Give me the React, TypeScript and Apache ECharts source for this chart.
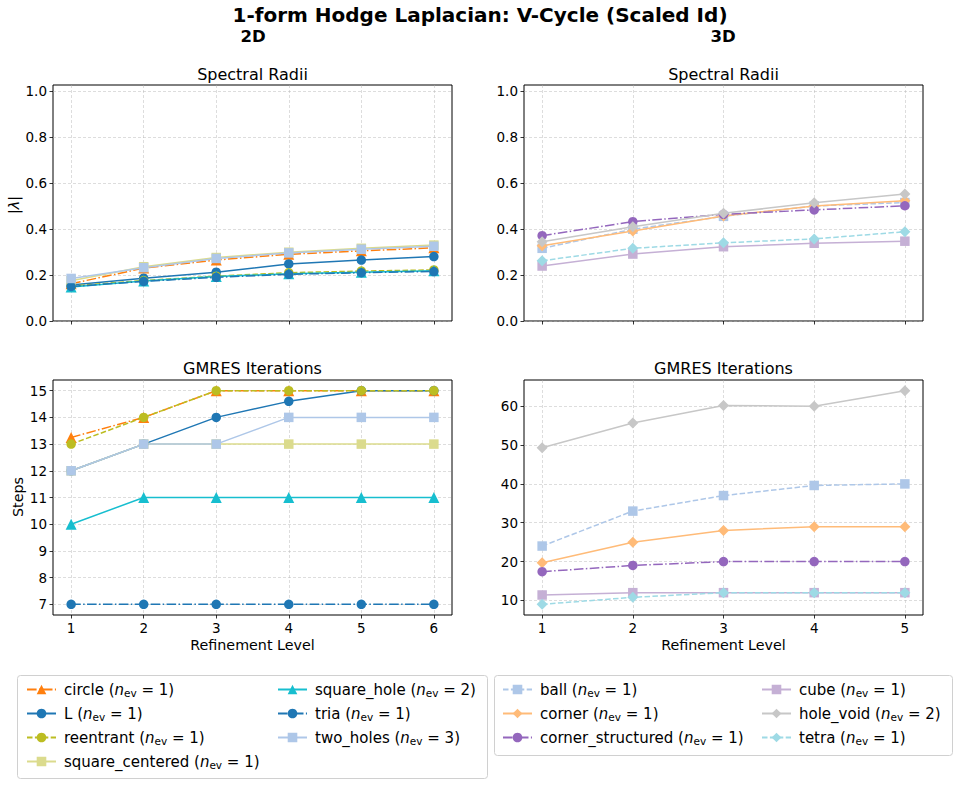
import React, { useEffect, useRef } from "react";
import * as echarts from "echarts";

const FONT = '"DejaVu Sans", "Liberation Sans", sans-serif';

// ---------- data ----------
const levels2D = [1, 2, 3, 4, 5, 6];
const levels3D = [1, 2, 3, 4, 5];

// 2D spectral radii
const rho2D_circle = [0.162, 0.23, 0.265, 0.29, 0.305, 0.318];
const rho2D_L = [0.157, 0.186, 0.212, 0.248, 0.265, 0.28];
const rho2D_reentrant = [0.152, 0.176, 0.195, 0.21, 0.217, 0.222];
const rho2D_square_centered = [0.175, 0.236, 0.276, 0.299, 0.316, 0.33];
const rho2D_square_hole = [0.148, 0.174, 0.193, 0.205, 0.212, 0.218];
const rho2D_tria = [0.15, 0.172, 0.19, 0.203, 0.21, 0.215];
const rho2D_two_holes = [0.185, 0.232, 0.272, 0.296, 0.312, 0.325];

// 2D GMRES steps
const steps2D_circle = [13.25, 14, 15, 15, 15, 15];
const steps2D_L = [12, 13, 14, 14.6, 15, 15];
const steps2D_reentrant = [13, 14, 15, 15, 15, 15];
const steps2D_square_centered = [12, 13, 13, 13, 13, 13];
const steps2D_square_hole = [10, 11, 11, 11, 11, 11];
const steps2D_tria = [7, 7, 7, 7, 7, 7];
const steps2D_two_holes = [12, 13, 13, 14, 14, 14];

// 3D spectral radii
const rho3D_ball = [0.316, 0.399, 0.455, 0.5, 0.515];
const rho3D_corner = [0.327, 0.391, 0.456, 0.5, 0.523];
const rho3D_corner_structured = [0.371, 0.432, 0.464, 0.483, 0.501];
const rho3D_cube = [0.239, 0.291, 0.323, 0.338, 0.347];
const rho3D_hole_void = [0.345, 0.41, 0.468, 0.514, 0.552];
const rho3D_tetra = [0.262, 0.316, 0.34, 0.357, 0.388];

// 3D GMRES steps
const steps3D_ball = [24, 33, 37, 39.6, 40];
const steps3D_corner = [19.7, 25, 28, 29, 29];
const steps3D_corner_structured = [17.4, 19, 20, 20, 20];
const steps3D_cube = [11.4, 12, 12, 12, 12];
const steps3D_hole_void = [49.3, 55.7, 60.2, 60, 64];
const steps3D_tetra = [9, 10.8, 12, 12, 12];

const names2D = ["circle", "L", "reentrant", "square_centered", "square_hole", "tria", "two_holes"];
const nev2D = [1, 1, 1, 1, 2, 1, 3];
const names3D = ["ball", "corner", "corner_structured", "cube", "hole_void", "tetra"];
const nev3D = [1, 1, 1, 1, 2, 1];

const rhoTicks = [0, 0.2, 0.4, 0.6, 0.8, 1.0];
const steps2DTicks = [7, 8, 9, 10, 11, 12, 13, 14, 15];
const steps3DTicks = [10, 20, 30, 40, 50, 60];

// ---------- styles ----------
const DASHED = [5.5, 2.4];
const DASHDOT = [9.6, 2.4, 1.5, 2.4];
const TICK_FS = 13.5;

const style2D: Record<string, any> = {
  circle: { color: "#ff7f0e", symbol: "triangle", dash: DASHDOT },
  L: { color: "#1f77b4", symbol: "circle", dash: "solid" },
  reentrant: { color: "#bcbd22", symbol: "circle", dash: DASHED },
  square_centered: { color: "#dbdb8d", symbol: "rect", dash: "solid" },
  square_hole: { color: "#17becf", symbol: "triangle", dash: "solid" },
  tria: { color: "#1f77b4", symbol: "circle", dash: DASHDOT },
  two_holes: { color: "#aec7e8", symbol: "rect", dash: "solid" },
};
const style3D: Record<string, any> = {
  ball: { color: "#aec7e8", symbol: "rect", dash: DASHED },
  corner: { color: "#ffbb78", symbol: "diamond", dash: "solid" },
  corner_structured: { color: "#9467bd", symbol: "circle", dash: DASHDOT },
  cube: { color: "#c5b0d5", symbol: "rect", dash: "solid" },
  hole_void: { color: "#c7c7c7", symbol: "diamond", dash: "solid" },
  tetra: { color: "#9edae5", symbol: "diamond", dash: DASHED },
};

const symSize: Record<string, number> = { circle: 9.5, triangle: 11, rect: 9.5, diamond: 11 };

function mkSeries(name: string, st: any, idx: number, levels: number[], values: number[]) {
  return {
    type: "line",
    name,
    xAxisIndex: idx,
    yAxisIndex: idx,
    data: levels.map((l, i) => [l, values[i]]),
    symbol: st.symbol,
    symbolSize: symSize[st.symbol],
    showSymbol: true,
    lineStyle: { color: st.color, width: 1.5, type: st.dash },
    itemStyle: { color: st.color, borderWidth: 0 },
    emphasis: { disabled: true },
  };
}

const gridLine = { show: true, lineStyle: { color: "rgba(176,176,176,0.55)", width: 0.8, type: [3, 2] } };

function xAxis(gi: number, min: number, max: number, ticks: number[], showLabels: boolean) {
  return {
    type: "value",
    gridIndex: gi,
    min,
    max,
    axisLine: { show: false },
    axisTick: { show: true, length: 3.5, inside: false, lineStyle: { color: "#000", width: 0.8 }, customValues: ticks },
    axisLabel: {
      show: showLabels,
      customValues: ticks,
      color: "#000",
      fontSize: TICK_FS,
      fontFamily: FONT,
      margin: 6,
    },
    splitLine: { ...gridLine, customValues: ticks },
  };
}
function yAxis(gi: number, min: number, max: number, ticks: number[], fmt: (v: number) => string) {
  return {
    type: "value",
    gridIndex: gi,
    min,
    max,
    axisLine: { show: false },
    axisTick: { show: true, length: 3.5, inside: false, lineStyle: { color: "#000", width: 0.8 }, customValues: ticks },
    axisLabel: {
      customValues: ticks,
      color: "#000",
      fontSize: TICK_FS,
      fontFamily: FONT,
      margin: 6,
      formatter: (v: number) => fmt(v),
    },
    splitLine: { ...gridLine, customValues: ticks },
  };
}

const LEG_FS = 15;
const richLegend = {
  t: { fontSize: LEG_FS, fontFamily: FONT, color: "#000", lineHeight: 18 },
  i: { fontSize: LEG_FS, fontFamily: FONT, fontStyle: "italic", color: "#000", lineHeight: 18 },
  s: { fontSize: 10.5, fontFamily: FONT, color: "#000", verticalAlign: "bottom", lineHeight: 13 },
};

function legendFmt(nevMap: Record<string, number>) {
  return (name: string) => `{t|${name} (}{i|n}{s|ev}{t| = ${nevMap[name]})}`;
}

function mkLegend(data: string[], left: number, top: number, nevMap: Record<string, number>) {
  return {
    show: true,
    orient: "vertical",
    left,
    top,
    data,
    itemWidth: 29,
    itemHeight: 12,
    itemGap: 7.5,
    padding: 0,
    selectedMode: false,
    formatter: legendFmt(nevMap),
    textStyle: { fontSize: LEG_FS, fontFamily: FONT, color: "#000", padding: [0, 0, 0, 3], rich: richLegend },
  };
}

export default function App() {
  const ref = useRef<HTMLDivElement>(null);
  useEffect(() => {
    if (!ref.current) return;
    const chart = echarts.init(ref.current, null, { renderer: "svg" });

    const nevMap2: Record<string, number> = {};
    names2D.forEach((n, i) => (nevMap2[n] = nev2D[i]));
    const nevMap3: Record<string, number> = {};
    names3D.forEach((n, i) => (nevMap3[n] = nev3D[i]));

    const rho2D: Record<string, number[]> = {
      circle: rho2D_circle, L: rho2D_L, reentrant: rho2D_reentrant, square_centered: rho2D_square_centered,
      square_hole: rho2D_square_hole, tria: rho2D_tria, two_holes: rho2D_two_holes,
    };
    const steps2D: Record<string, number[]> = {
      circle: steps2D_circle, L: steps2D_L, reentrant: steps2D_reentrant, square_centered: steps2D_square_centered,
      square_hole: steps2D_square_hole, tria: steps2D_tria, two_holes: steps2D_two_holes,
    };
    const rho3D: Record<string, number[]> = {
      ball: rho3D_ball, corner: rho3D_corner, corner_structured: rho3D_corner_structured,
      cube: rho3D_cube, hole_void: rho3D_hole_void, tetra: rho3D_tetra,
    };
    const steps3D: Record<string, number[]> = {
      ball: steps3D_ball, corner: steps3D_corner, corner_structured: steps3D_corner_structured,
      cube: steps3D_cube, hole_void: steps3D_hole_void, tetra: steps3D_tetra,
    };

    const series: any[] = [];
    names2D.forEach((n) => series.push(mkSeries(n, style2D[n], 0, levels2D, rho2D[n])));
    names3D.forEach((n) => series.push(mkSeries(n, style3D[n], 1, levels3D, rho3D[n])));
    names2D.forEach((n) => series.push(mkSeries(n, style2D[n], 2, levels2D, steps2D[n])));
    names3D.forEach((n) => series.push(mkSeries(n, style3D[n], 3, levels3D, steps3D[n])));

    const gridBox = { show: true, borderColor: "#000", borderWidth: 1, backgroundColor: "transparent" };

    const txt = (text: string, x: number, y: number, size: number, bold = false, extra: any = {}) => ({
      type: "text",
      x,
      y,
      z: 10,
      ...extra,
      style: {
        text,
        fontSize: size,
        fontFamily: FONT,
        fontWeight: bold ? "bold" : "normal",
        fill: "#000",
        align: "center",
        verticalAlign: "middle",
        ...(extra.style || {}),
      },
    });

    const option: any = {
      animation: false,
      backgroundColor: "#fff",
      grid: [
        { left: 53, top: 85, width: 399, height: 236, ...gridBox },
        { left: 524, top: 85, width: 399, height: 236, ...gridBox },
        { left: 53, top: 380, width: 399, height: 235, ...gridBox },
        { left: 524, top: 380, width: 399, height: 235, ...gridBox },
      ],
      xAxis: [
        xAxis(0, 0.75, 6.25, levels2D, false),
        xAxis(1, 0.8, 5.2, levels3D, false),
        xAxis(2, 0.75, 6.25, levels2D, true),
        xAxis(3, 0.8, 5.2, levels3D, true),
      ],
      yAxis: [
        yAxis(0, 0, 1.026, rhoTicks, (v) => v.toFixed(1)),
        yAxis(1, 0, 1.026, rhoTicks, (v) => v.toFixed(1)),
        yAxis(2, 6.6, 15.4, steps2DTicks, (v) => String(Math.round(v))),
        yAxis(3, 6.25, 66.75, steps3DTicks, (v) => String(Math.round(v))),
      ],
      legend: [
        mkLegend(["circle", "L", "reentrant", "square_centered"], 26, 682, nevMap2),
        mkLegend(["square_hole", "tria", "two_holes"], 277, 682, nevMap2),
        mkLegend(["ball", "corner", "corner_structured"], 502, 682, nevMap3),
        mkLegend(["cube", "hole_void", "tetra"], 761, 682, nevMap3),
      ],
      graphic: [
        {
          type: "rect",
          z: 1,
          shape: { x: 17.5, y: 675.5, width: 470, height: 103, r: 3 },
          style: { fill: "#fff", stroke: "#d0d0d0", lineWidth: 1 },
        },
        {
          type: "rect",
          z: 1,
          shape: { x: 494.5, y: 675.5, width: 458, height: 80, r: 3 },
          style: { fill: "#fff", stroke: "#d0d0d0", lineWidth: 1 },
        },
        txt("1-form Hodge Laplacian: V-Cycle (Scaled Id)", 480, 15, 20, true),
        txt("2D", 253, 36, 16.5, true),
        txt("3D", 723, 36, 16.5, true),
        txt("Spectral Radii", 252.5, 74, 16),
        txt("Spectral Radii", 723.5, 74, 16),
        txt("GMRES Iterations", 252.5, 368, 16),
        txt("GMRES Iterations", 723.5, 368, 16),
        txt("Refinement Level", 252.5, 645, 14.3),
        txt("Refinement Level", 723.5, 645, 14.3),
        txt("Steps", 18, 497, 14.3, false, { rotation: Math.PI / 2 }),
        {
          type: "text",
          x: 14,
          y: 205,
          z: 10,
          rotation: Math.PI / 2,
          style: {
            text: "{a||}{b|λ}{a||}",
            align: "center",
            verticalAlign: "middle",
            fill: "#000",
            rich: {
              a: { fontSize: 14.3, fontFamily: FONT, fill: "#000" },
              b: { fontSize: 14.3, fontFamily: FONT, fontStyle: "italic", fill: "#000" },
            },
          },
        },
      ],
      series,
    };
    chart.setOption(option);
    return () => chart.dispose();
  }, []);
  return (
    <div
      ref={ref}
      style={{ position: "absolute", left: 0, top: 0, width: 960, height: 787, background: "#fff" }}
    />
  );
}
